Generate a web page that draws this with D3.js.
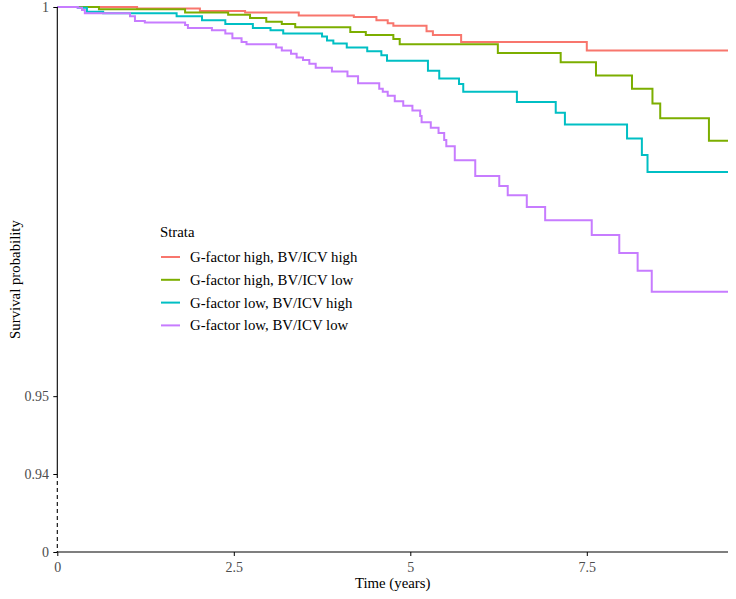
<!DOCTYPE html>
<html>
<head>
<meta charset="utf-8">
<script src="https://cdn.jsdelivr.net/npm/d3@7"></script>
<style>
  body { margin: 0; background: #fff; }
  text { font-family: "Liberation Serif", "Times New Roman", serif; }
</style>
</head>
<body>
<svg width="736" height="599"></svg>
<script>
const width = 736, height = 599;

const strata = [
  "G-factor high, BV/ICV high",
  "G-factor high, BV/ICV low",
  "G-factor low, BV/ICV high",
  "G-factor low, BV/ICV low"
];
const colors = ["#F8766D", "#7CAE00", "#00BFC4", "#C77CFF"];

// step times (years) and survival after each step
const hhTime = [0, 1.13, 2.02, 2.66, 3.42, 4.20, 4.52, 4.68, 4.76, 5.23, 5.32, 5.72, 7.50];
const hhSurv = [1, .9998, .9995, .9993, .9989, .9987, .9983, .9979, .9976, .9969, .9964, .9955, .9944];

const hlTime = [0, 0.59, 1.81, 2.42, 2.73, 2.96, 3.18, 3.37, 4.15, 4.37, 4.76, 4.85, 6.24, 7.13, 7.63, 8.14, 8.43, 8.54, 9.23];
const hlSurv = [1, .9997, .9993, .9990, .9986, .9981, .9978, .9974, .9968, .9964, .9959, .9952, .9941, .9929, .9912, .9895, .9876, .9857, .9828];

const lhTime = [0, 0.29, 0.42, 0.65, 1.69, 2.05, 2.38, 2.77, 3.02, 3.20, 3.75, 3.82, 3.91, 4.10, 4.39, 4.59, 4.67, 5.25, 5.41, 5.69, 5.75, 6.51, 7.06, 7.19, 8.07, 8.28, 8.36];
const lhSurv = [1, .9999, .9994, .9992, .9988, .9983, .9978, .9973, .9970, .9966, .9962, .9957, .9953, .9948, .9943, .9938, .9931, .9918, .9908, .9901, .9891, .9878, .9864, .9849, .9831, .9810, .9788];

const llTime = [0, 0.29, 0.35, 0.39, 1.03, 1.10, 1.24, 1.81, 1.85, 2.19, 2.38, 2.48, 2.61, 2.68, 3.10, 3.18, 3.31, 3.39, 3.48, 3.57, 3.66, 3.89, 4.11, 4.26, 4.56, 4.61, 4.68, 4.78, 4.90, 5.03, 5.14, 5.16, 5.29, 5.40, 5.48, 5.51, 5.63, 5.92, 6.26, 6.38, 6.65, 6.91, 7.57, 7.96, 8.22, 8.42];
const llSurv = [1, .9999, .9996, .9992, .9988, .9982, .9980, .9977, .9973, .9970, .9966, .9960, .9955, .9952, .9948, .9944, .9940, .9935, .9932, .9927, .9922, .9917, .9911, .9902, .9895, .9891, .9886, .9879, .9873, .9867, .9860, .9852, .9845, .9838, .9829, .9821, .9803, .9783, .9770, .9758, .9743, .9726, .9707, .9684, .9661, .9634];

const endTime = 9.5;
const xTicks = [0, 2.5, 5, 7.5];
const yTicks = [0, 0.94, 0.95, 1];

const series = [
  {name: strata[0], color: colors[0], time: hhTime, surv: hhSurv},
  {name: strata[1], color: colors[1], time: hlTime, surv: hlSurv},
  {name: strata[2], color: colors[2], time: lhTime, surv: lhSurv},
  {name: strata[3], color: colors[3], time: llTime, surv: llSurv}
];

const svg = d3.select("svg");
const x = d3.scaleLinear().domain([0, endTime]).range([57.3, 728]);
// broken axis: 0 to 0.94 squeezed into the bottom bit
const y = d3.scaleLinear().domain([0, 0.94, 1]).range([552, 474, 7]);

const line = d3.line()
  .x(d => x(d[0]))
  .y(d => y(d[1]))
  .curve(d3.curveStepAfter);

series.forEach(s => {
  const pts = s.time.map((t, i) => [t, s.surv[i]]);
  pts.push([endTime, s.surv[s.surv.length - 1]]);
  svg.append("path")
    .attr("d", line(pts))
    .attr("fill", "none")
    .attr("stroke", s.color)
    .attr("stroke-width", 2);
});

// axes
const xAxis = svg.append("g")
  .attr("transform", `translate(0, ${y(0)})`)
  .call(d3.axisBottom(x).tickValues(xTicks).tickSize(4).tickFormat(d => d));
const yAxis = svg.append("g")
  .attr("transform", `translate(${x(0)}, 0)`)
  .call(d3.axisLeft(y).tickValues(yTicks).tickSize(4).tickFormat(d => d));

[xAxis, yAxis].forEach(g => {
  g.select(".domain").remove();
  g.selectAll(".tick line").attr("stroke", "#000");
  g.selectAll(".tick text")
    .attr("fill", "#4d4d4d")
    .style("font-family", "Liberation Serif")
    .style("font-size", "14px");
});
xAxis.selectAll(".tick text").attr("dy", "0.95em");
yAxis.selectAll(".tick text").attr("dx", "-0.1em");

svg.append("line")
  .attr("x1", x(0)).attr("x2", x(endTime))
  .attr("y1", y(0)).attr("y2", y(0))
  .attr("stroke", "#000").attr("stroke-width", 1.1);
svg.append("line")
  .attr("x1", x(0)).attr("x2", x(0))
  .attr("y1", y(1)).attr("y2", y(0.94))
  .attr("stroke", "#000").attr("stroke-width", 1.1);
svg.append("line")
  .attr("x1", x(0)).attr("x2", x(0))
  .attr("y1", y(0.94)).attr("y2", y(0))
  .attr("stroke", "#000").attr("stroke-width", 1.1)
  .attr("stroke-dasharray", "4,3");

// axis titles
svg.append("text")
  .attr("x", (x(0) + x(endTime)) / 2)
  .attr("y", 588)
  .attr("text-anchor", "middle")
  .style("font-size", "14.8px")
  .text("Time (years)");

svg.append("text")
  .attr("transform", `translate(20, ${(y(1) + y(0)) / 2}) rotate(-90)`)
  .attr("text-anchor", "middle")
  .style("font-size", "14.8px")
  .text("Survival probability");

// legend
const legend = svg.append("g").attr("transform", "translate(160, 0)");
legend.append("text")
  .attr("x", 0)
  .attr("y", 236.5)
  .style("font-size", "14.8px")
  .text("Strata");

series.forEach((s, i) => {
  const ly = 257 + i * 22.8;
  legend.append("line")
    .attr("x1", 1).attr("x2", 20)
    .attr("y1", ly).attr("y2", ly)
    .attr("stroke", s.color)
    .attr("stroke-width", 2);
  legend.append("text")
    .attr("x", 30)
    .attr("y", ly + 5)
    .style("font-size", "14.8px")
    .text(s.name);
});
</script>
</body>
</html>
